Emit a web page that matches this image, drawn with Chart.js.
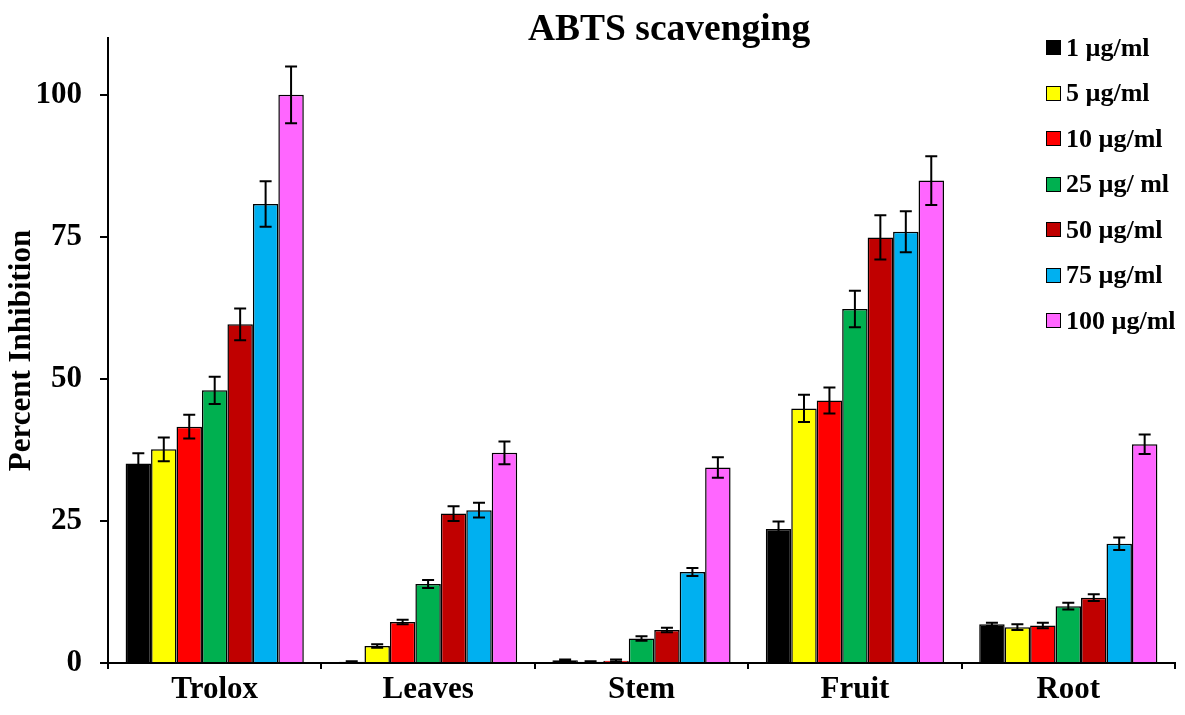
<!DOCTYPE html>
<html>
<head>
<meta charset="utf-8">
<script src="https://cdn.jsdelivr.net/npm/chart.js@4.4.1/dist/chart.umd.min.js"></script>
<style>
  html, body { margin: 0; padding: 0; background: #fff; }
  #wrap { position: relative; width: 1185px; height: 715px; font-family: "Liberation Serif", "Times New Roman", serif; }
  #chart { position: absolute; left: 0; top: 0; }
  #title { position: absolute; left: 528px; top: 6px; font-size: 37.5px; font-weight: bold; white-space: nowrap; }
  #legend { position: absolute; left: 1046px; top: 25px; font-size: 26px; font-weight: bold; }
  #legend .item { height: 45.5px; display: flex; align-items: center; white-space: nowrap; }
  #legend .box { width: 13px; height: 13px; border: 1.5px solid #000; margin-right: 5px; }
</style>
</head>
<body>
<div id="wrap">
  <canvas id="chart" width="1185" height="715"></canvas>
  <div id="title">ABTS scavenging</div>
  <div id="legend"></div>
</div>
<script>
// categorias y series
const categories = ['Trolox', 'Leaves', 'Stem', 'Fruit', 'Root'];
const seriesNames = ['1 µg/ml', '5 µg/ml', '10 µg/ml', '25 µg/ ml', '50 µg/ml', '75 µg/ml', '100 µg/ml'];
const seriesColors = ['#000000', '#FFFF00', '#FF0000', '#00B050', '#C00000', '#00B0F0', '#FF66FF'];

// valores por concentracion (Trolox, Leaves, Stem, Fruit, Root)
const c1 = [35.1, 0.2, 0.5, 23.6, 6.8];
const c5 = [37.6, 3.0, 0.2, 44.8, 6.3];
const c10 = [41.6, 7.2, 0.4, 46.2, 6.6];
const c25 = [48.0, 13.9, 4.3, 62.3, 10.0];
const c50 = [59.6, 26.3, 5.8, 74.9, 11.5];
const c75 = [80.8, 26.9, 16.0, 75.9, 21.0];
const c100 = [100.0, 37.0, 34.4, 84.9, 38.5];

// errores estandar
const e1 = [1.8, 0.1, 0.1, 1.3, 0.3];
const e5 = [2.1, 0.3, 0.1, 2.4, 0.5];
const e10 = [2.1, 0.4, 0.2, 2.3, 0.5];
const e25 = [2.4, 0.7, 0.4, 3.2, 0.6];
const e50 = [2.8, 1.3, 0.4, 3.9, 0.6];
const e75 = [4.0, 1.3, 0.7, 3.6, 1.1];
const e100 = [5.0, 2.0, 1.8, 4.3, 1.7];

const yTicks = [0, 25, 50, 75, 100];

const values = [c1, c5, c10, c25, c50, c75, c100];
const errors = [e1, e5, e10, e25, e50, e75, e100];

// leyenda en html
const legend = document.getElementById('legend');
seriesNames.forEach((name, i) => {
    const item = document.createElement('div');
    item.className = 'item';
    item.innerHTML = `<span class="box" style="background:${seriesColors[i]}"></span><span>${name}</span>`;
    legend.appendChild(item);
});

// barras de error
const errorBars = {
    id: 'errorBars',
    afterDatasetsDraw(chart) {
        const ctx = chart.ctx;
        const y = chart.scales.y;
        ctx.save();
        ctx.strokeStyle = '#000';
        ctx.lineWidth = 2;
        chart.data.datasets.forEach((ds, i) => {
            const meta = chart.getDatasetMeta(i);
            meta.data.forEach((bar, j) => {
                const v = ds.data[j];
                const err = errors[i][j];
                const top = y.getPixelForValue(v + err);
                const bot = y.getPixelForValue(v - err);
                const cap = 6;
                ctx.beginPath();
                ctx.moveTo(bar.x, top);
                ctx.lineTo(bar.x, bot);
                ctx.moveTo(bar.x - cap, top);
                ctx.lineTo(bar.x + cap, top);
                ctx.moveTo(bar.x - cap, bot);
                ctx.lineTo(bar.x + cap, bot);
                ctx.stroke();
            });
        });
        ctx.restore();
    }
};

const font = { family: '"Liberation Serif", "Times New Roman", serif', weight: 'bold' };

new Chart(document.getElementById('chart'), {
    type: 'bar',
    data: {
        labels: categories,
        datasets: values.map((v, i) => ({
            label: seriesNames[i],
            data: v,
            backgroundColor: seriesColors[i],
            borderColor: '#000',
            borderWidth: 1.5,
            barPercentage: 1.0,
            categoryPercentage: 0.835
        }))
    },
    options: {
        responsive: false,
        animation: false,
        layout: { padding: { top: 38, right: 10, left: 0, bottom: 0 } },
        plugins: {
            legend: { display: false },
            tooltip: { enabled: false }
        },
        scales: {
            x: {
                afterFit(scale) { scale.height = 52; },
                border: { display: true, color: '#000', width: 2 },
                grid: { display: true, drawOnChartArea: false, color: '#000', lineWidth: 2, tickLength: 6 },
                ticks: { color: '#000', padding: 2, font: { ...font, size: 31 } }
            },
            y: {
                min: 0,
                max: 110,
                afterFit(scale) { scale.width = 108; },
                afterBuildTicks(scale) { scale.ticks = yTicks.map(v => ({ value: v })); },
                border: { display: true, color: '#000', width: 2 },
                grid: { display: true, drawOnChartArea: false, color: '#000', lineWidth: 2, tickLength: 8 },
                ticks: { color: '#000', padding: 18, font: { ...font, size: 31 } },
                title: {
                    display: true,
                    text: 'Percent Inhibition',
                    color: '#000',
                    padding: { top: 3, bottom: 0 },
                    font: { ...font, size: 31 }
                }
            }
        }
    },
    plugins: [errorBars]
});
</script>
</body>
</html>
